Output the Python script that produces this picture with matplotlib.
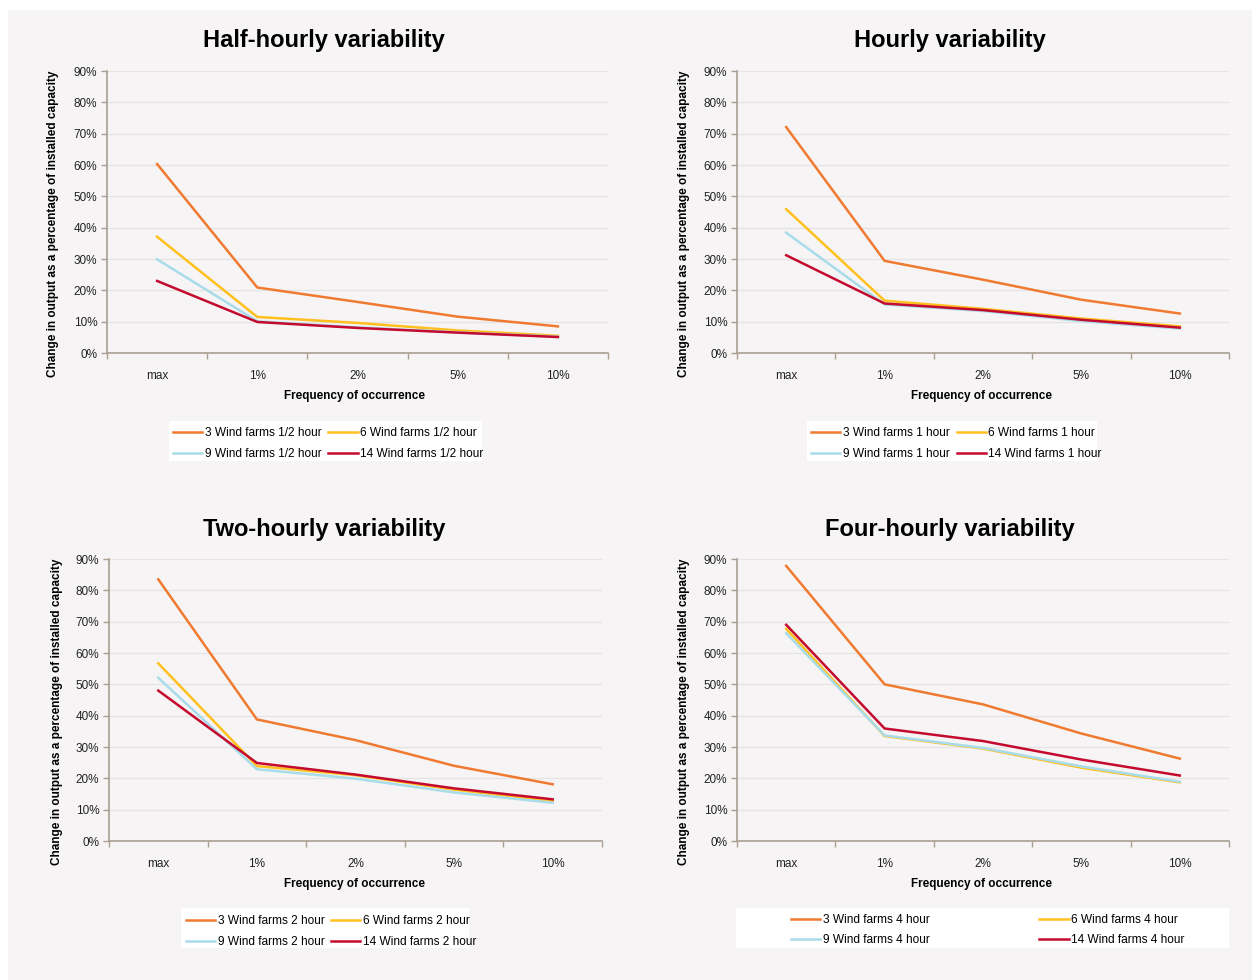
import matplotlib
matplotlib.use("Agg")
import matplotlib.pyplot as plt
from matplotlib.patches import Rectangle
from matplotlib.ticker import FixedLocator, PercentFormatter

plt.rcParams['font.family'] = ['Liberation Sans', 'DejaVu Sans']

W, H = 1252, 980

categories = ["max", "1%", "2%", "5%", "10%"]
series_names = ["3 Wind farms", "6 Wind farms", "9 Wind farms", "14 Wind farms"]
colors = ["#F07A30", "#FFC020", "#A8DCEA", "#C40A2E"]

titles = ["Half-hourly variability", "Hourly variability",
          "Two-hourly variability", "Four-hourly variability"]
suffixes = ["1/2 hour", "1 hour", "2 hour", "4 hour"]

half_hourly_3 = [60.3, 20.9, 16.3, 11.6, 8.5]
half_hourly_6 = [37.1, 11.5, 9.6, 7.2, 5.5]
half_hourly_9 = [29.9, 10.1, 8.2, 6.6, 5.2]
half_hourly_14 = [23.0, 9.9, 8.0, 6.5, 5.1]

hourly_3 = [72.1, 29.4, 23.4, 17.0, 12.6]
hourly_6 = [45.9, 16.7, 14.1, 11.0, 8.5]
hourly_9 = [38.4, 15.5, 13.4, 10.2, 7.8]
hourly_14 = [31.2, 15.8, 13.7, 10.6, 8.1]

two_hourly_3 = [83.5, 38.8, 32.2, 24.0, 18.1]
two_hourly_6 = [56.7, 23.9, 21.0, 16.4, 12.7]
two_hourly_9 = [52.1, 22.9, 19.9, 15.5, 12.2]
two_hourly_14 = [48.0, 24.9, 21.2, 16.8, 13.3]

four_hourly_3 = [87.8, 50.0, 43.6, 34.3, 26.3]
four_hourly_6 = [67.7, 33.5, 29.5, 23.4, 18.7]
four_hourly_9 = [66.3, 33.7, 29.7, 23.8, 18.9]
four_hourly_14 = [69.0, 35.9, 31.9, 26.0, 20.9]

panel_data = [
    [half_hourly_3, half_hourly_6, half_hourly_9, half_hourly_14],
    [hourly_3, hourly_6, hourly_9, hourly_14],
    [two_hourly_3, two_hourly_6, two_hourly_9, two_hourly_14],
    [four_hourly_3, four_hourly_6, four_hourly_9, four_hourly_14],
]

yticks = [0, 10, 20, 30, 40, 50, 60, 70, 80, 90]

BG = "#F6F4F4"
SPINE = "#A99F92"
GRID = "#E6E3E3"

fig = plt.figure(figsize=(W / 100, H / 100), dpi=100)
fig.patch.set_facecolor("white")
fig.add_artist(Rectangle((8 / W, 0), 1 - 8 / W, 1 - 10 / H, transform=fig.transFigure,
                         facecolor=BG, edgecolor="none", zorder=-10))

def fx(px):
    return px / W

def fy(py):
    return 1 - py / H

# pixel layout
layouts = [
    dict(ax=(107, 608, 71, 353), title=(324, 41), ylab=(53, 224), xlab=(355, 396),
         box=(169, 482, 421, 461), anchor=(173, 427), colsp=0.6, lsp=0.78),
    dict(ax=(737, 1229, 71, 353), title=(950, 41), ylab=(684, 224), xlab=(981, 396),
         box=(807, 1097, 421, 461), anchor=(811, 427), colsp=0.6, lsp=0.78),
    dict(ax=(109, 602, 559, 841), title=(324, 529), ylab=(57, 712), xlab=(354, 884),
         box=(181, 469, 908, 948), anchor=(186, 915), colsp=0.55, lsp=0.78),
    dict(ax=(737, 1229, 559, 841), title=(950, 529), ylab=(684, 712), xlab=(981, 884),
         box=(736, 1229, 908, 948), anchor=(791, 914), colsp=9.2, lsp=0.7),
]

for i, lay in enumerate(layouts):
    x0, x1, yt, yb = lay["ax"]
    ax = fig.add_axes([fx(x0), fy(yb), fx(x1 - x0), (yb - yt) / H])
    ax.set_facecolor(BG)
    x = list(range(len(categories)))
    handles = []
    for s in range(4):
        (ln,) = ax.plot(x, panel_data[i][s], color=colors[s], lw=1.8,
                        label=f"{series_names[s]} {suffixes[i]}")
        handles.append(ln)
    ax.set_xlim(-0.5, len(categories) - 0.5)
    ax.set_ylim(0, 90)
    ax.set_yticks(yticks)
    ax.yaxis.set_major_formatter(PercentFormatter(decimals=0))
    ax.set_xticks(x)
    ax.set_xticklabels(categories)
    ax.xaxis.set_minor_locator(FixedLocator([k - 0.5 for k in range(len(categories) + 1)]))
    ax.tick_params(axis="x", which="major", length=0, pad=12, labelsize=8.5, colors="#222222")
    ax.tick_params(axis="x", which="minor", length=4, width=1, color=SPINE, direction="out")
    ax.tick_params(axis="y", which="major", length=4, width=1, color=SPINE, direction="out",
                   labelsize=8.5, labelcolor="#222222", pad=3)
    for sp in ["top", "right"]:
        ax.spines[sp].set_visible(False)
    for sp in ["left", "bottom"]:
        ax.spines[sp].set_color(SPINE)
        ax.spines[sp].set_linewidth(1.2)
    ax.grid(axis="y", color=GRID, lw=0.9)
    ax.set_axisbelow(True)

    tx, ty = lay["title"]
    fig.text(fx(tx), fy(ty), titles[i], ha="center", va="center",
             fontsize=17, fontweight="bold", color="black")
    lx, ly = lay["ylab"]
    fig.text(fx(lx), fy(ly), "Change in output as a percentage of installed capacity",
             ha="center", va="center", rotation=90, fontsize=8.5, fontweight="bold")
    xx, xy = lay["xlab"]
    fig.text(fx(xx), fy(xy), "Frequency of occurrence", ha="center", va="center",
             fontsize=8.5, fontweight="bold")

    bx0, bx1, by0, by1 = lay["box"]
    fig.add_artist(Rectangle((fx(bx0), fy(by1)), fx(bx1 - bx0), (by1 - by0) / H,
                             transform=fig.transFigure, facecolor="white",
                             edgecolor="none", zorder=1))
    axx, axy = lay["anchor"]
    # legend fills row-wise: (3, 6) on first row, (9, 14) on second
    order = [0, 2, 1, 3]
    leg = fig.legend(handles=[handles[k] for k in order], loc="upper left",
                     bbox_to_anchor=(fx(axx), fy(axy)), ncol=2, frameon=False,
                     fontsize=8.6, handlelength=2.45, handletextpad=0.2,
                     columnspacing=lay["colsp"], labelspacing=lay["lsp"], borderpad=0,
                     borderaxespad=0)
    leg.set_zorder(2)

fig.savefig("out.png", dpi=100, facecolor="white")
